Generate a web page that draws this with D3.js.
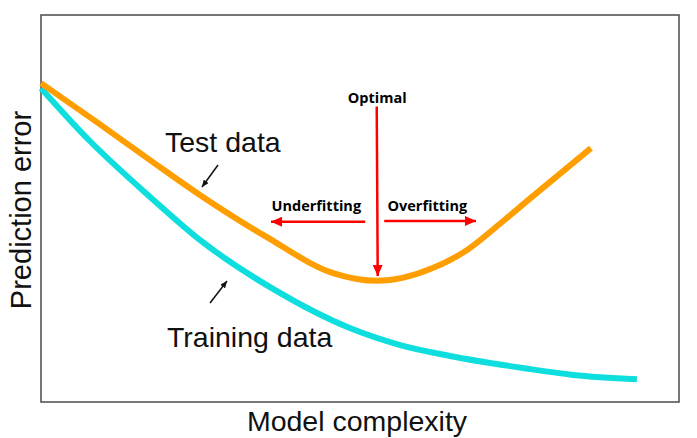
<!DOCTYPE html>
<html>
<head>
<meta charset="utf-8">
<script src="https://cdn.jsdelivr.net/npm/d3@7"></script>
<style>
  html, body { margin: 0; padding: 0; background: #fff; }
  svg { display: block; }
</style>
</head>
<body>
<svg id="chart" width="697" height="438"></svg>
<script>
// ---- data (model complexity vs prediction error, arbitrary units 0-10) ----
const testComplexity  = [0.0, 0.92, 1.71, 2.49, 3.54, 4.58, 5.27, 6.14, 6.68, 7.19, 7.71, 8.62];
const testError       = [8.24, 7.18, 6.25, 5.35, 4.26, 3.33, 3.13, 3.46, 3.93, 4.60, 5.32, 6.56];
const trainComplexity = [0.0, 0.75, 1.71, 2.49, 3.67, 4.84, 5.63, 6.41, 7.55, 8.34, 9.34];
const trainError      = [8.11, 6.77, 5.30, 4.19, 2.89, 1.91, 1.47, 1.19, 0.88, 0.70, 0.59];
const seriesNames = ["Test data", "Training data"];
const xLabel = "Model complexity";
const yLabel = "Prediction error";
const annotations = ["Optimal", "Underfitting", "Overfitting"];
const optimalComplexity = 5.27;

// ---- layout ----
const svg = d3.select("#chart");
const box = {left: 41, top: 15, right: 679, bottom: 402};
const x = d3.scaleLinear().domain([0, 10]).range([box.left, box.right]);
const y = d3.scaleLinear().domain([0, 10]).range([box.bottom, box.top]);

const defs = svg.append("defs");
function marker(id, color, len, wid) {
  defs.append("marker")
    .attr("id", id).attr("viewBox", `0 0 ${len} ${wid}`)
    .attr("refX", len).attr("refY", wid / 2)
    .attr("markerWidth", len).attr("markerHeight", wid)
    .attr("markerUnits", "userSpaceOnUse").attr("orient", "auto")
    .append("path").attr("d", `M0,0L${len},${wid/2}L0,${wid}Z`).attr("fill", color);
}
marker("redHead", "#ff0000", 11, 10);
marker("blackHead", "#111", 7, 6);

// frame
svg.append("rect")
  .attr("x", box.left).attr("y", box.top)
  .attr("width", box.right - box.left).attr("height", box.bottom - box.top)
  .attr("fill", "none").attr("stroke", "#555").attr("stroke-width", 1.6);

const line = d3.line().x(d => x(d[0])).y(d => y(d[1])).curve(d3.curveMonotoneX);

svg.append("path")
  .datum(d3.zip(trainComplexity, trainError))
  .attr("d", line).attr("fill", "none")
  .attr("stroke", "#0fdede").attr("stroke-width", 6);

svg.append("path")
  .datum(d3.zip(testComplexity, testError))
  .attr("d", line).attr("fill", "none")
  .attr("stroke", "#ff9e00").attr("stroke-width", 6);

// axis labels
svg.append("text")
  .attr("x", 357).attr("y", 431)
  .attr("text-anchor", "middle")
  .style("font-family", "'Liberation Sans', Arial, sans-serif")
  .style("font-size", "28.5px").attr("fill", "#111")
  .text(xLabel);

svg.append("text")
  .attr("transform", "translate(31,210) rotate(-90)")
  .attr("text-anchor", "middle")
  .style("font-family", "'Liberation Sans', Arial, sans-serif")
  .style("font-size", "29px").attr("fill", "#111")
  .text(yLabel);

// series labels
svg.append("text")
  .attr("x", 165).attr("y", 151.5)
  .style("font-family", "'Liberation Sans', Arial, sans-serif")
  .style("font-size", "28.5px").attr("fill", "#111")
  .text(seriesNames[0]);

svg.append("text")
  .attr("x", 167).attr("y", 346.5)
  .style("font-family", "'Liberation Sans', Arial, sans-serif")
  .style("font-size", "28.5px").attr("fill", "#111")
  .text(seriesNames[1]);

// small black pointer arrows
svg.append("line")
  .attr("x1", 218).attr("y1", 165).attr("x2", 202).attr("y2", 187)
  .attr("stroke", "#111").attr("stroke-width", 1.5)
  .attr("marker-end", "url(#blackHead)");
svg.append("line")
  .attr("x1", 210).attr("y1", 303).attr("x2", 227).attr("y2", 281)
  .attr("stroke", "#111").attr("stroke-width", 1.5)
  .attr("marker-end", "url(#blackHead)");

// red annotation arrows
const ox = x(optimalComplexity);
svg.append("line")
  .attr("x1", ox - 0.5).attr("y1", 106.5).attr("x2", ox + 0.5).attr("y2", 276)
  .attr("stroke", "#ff0000").attr("stroke-width", 2.5)
  .attr("marker-end", "url(#redHead)");
svg.append("line")
  .attr("x1", ox - 12).attr("y1", 221.7).attr("x2", 271).attr("y2", 221.7)
  .attr("stroke", "#ff0000").attr("stroke-width", 2.5)
  .attr("marker-end", "url(#redHead)");
svg.append("line")
  .attr("x1", ox + 7).attr("y1", 221).attr("x2", 476).attr("y2", 221)
  .attr("stroke", "#ff0000").attr("stroke-width", 2.5)
  .attr("marker-end", "url(#redHead)");

const boldFont = "'Open Sans', 'Noto Sans', sans-serif";
svg.append("text")
  .attr("x", ox).attr("y", 102.5).attr("text-anchor", "middle")
  .style("font-family", boldFont).style("font-weight", 700).style("font-size", "14.5px")
  .attr("fill", "#000").text(annotations[0]);
svg.append("text")
  .attr("x", 271.5).attr("y", 211)
  .style("font-family", boldFont).style("font-weight", 700).style("font-size", "14.5px")
  .attr("fill", "#000").text(annotations[1]);
svg.append("text")
  .attr("x", 387.5).attr("y", 211)
  .style("font-family", boldFont).style("font-weight", 700).style("font-size", "14.5px")
  .attr("fill", "#000").text(annotations[2]);
</script>
</body>
</html>
